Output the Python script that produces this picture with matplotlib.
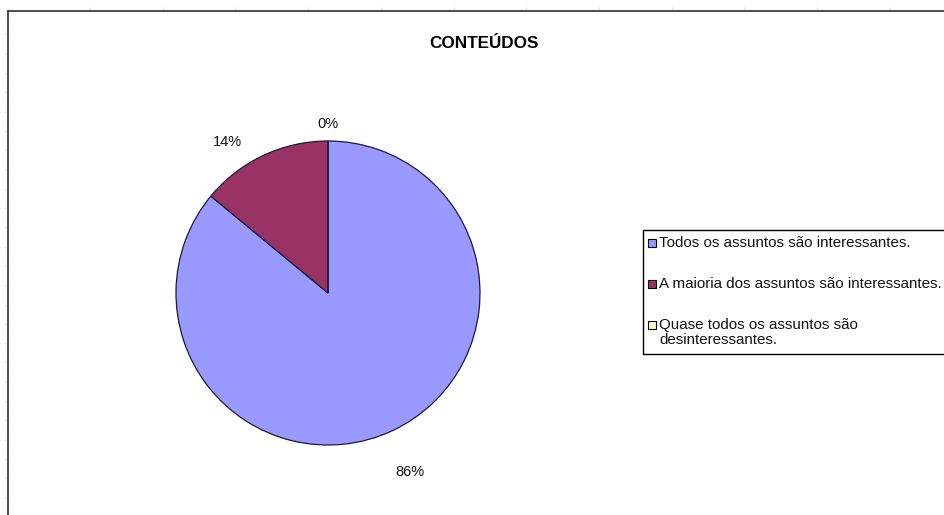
import matplotlib
matplotlib.use("Agg")
import matplotlib.pyplot as plt
from matplotlib.patches import Rectangle
from matplotlib.lines import Line2D

plt.rcParams['font.family'] = ['Liberation Sans', 'DejaVu Sans']

title = "CONTEÚDOS"
categories = [
    "Todos os assuntos são interessantes.",
    "A maioria dos assuntos são interessantes.",
    "Quase todos os assuntos são\ndesinteressantes.",
]
values = [86, 14, 0]
colors = ["#9999FF", "#993366", "#FFFFCC"]

W, H = 944, 515
fig = plt.figure(figsize=(W / 100, H / 100), dpi=100)
fig.patch.set_facecolor("white")

def fx(px):
    return px / W

def fy(py):
    return 1 - py / H

# faint worksheet grid remnants around the chart frame
for x in [90, 163, 235, 308, 381, 454, 526, 599, 672, 744, 817, 890]:
    fig.add_artist(Line2D([fx(x), fx(x)], [fy(7), fy(11)], color="#e6e6e6", lw=0.8))
y = 15
while y < H:
    fig.add_artist(Line2D([fx(5), fx(8)], [fy(y), fy(y)], color="#e6e6e6", lw=0.8))
    y += 19.3

# chart frame (left and top edges visible)
fig.add_artist(Line2D([fx(8), fx(8)], [fy(11), 0], color="#404040", lw=1.3))
fig.add_artist(Line2D([fx(8), 1], [fy(11), fy(11)], color="#404040", lw=1.3))

fig.text(fx(484), fy(44), title, ha="center", va="center",
         fontsize=12.3, fontweight="bold", color="black")

# pie: centre (328, 293), radius 152 px
cx, cy, r = 328, 293, 152
ax = fig.add_axes([fx(cx - r), fy(cy + r), 2 * r / W, 2 * r / H])
wedges, _ = ax.pie(values, colors=colors, startangle=90, counterclock=False,
                   radius=1.0,
                   wedgeprops=dict(edgecolor="#1a1a3a", linewidth=0.9))
ax.set_xlim(-1, 1)
ax.set_ylim(-1, 1)
ax.set_aspect("auto")
ax.axis("off")

# percentage labels
label_pos = [(410, 472), (227, 142), (328, 124)]
for v, (lx, ly) in zip(values, label_pos):
    fig.text(fx(lx), fy(ly), f"{v}%", ha="center", va="center",
             fontsize=10.5, color="#111111")

# legend, laid out by hand: box runs off the right edge
box_left, box_top, box_bottom = 643, 230, 354
fig.add_artist(Rectangle((fx(box_left), fy(box_bottom)), fx(960 - box_left),
                         (box_bottom - box_top) / H, facecolor="white",
                         edgecolor="black", linewidth=1.0))
entry_y = [243, 284, 325]
line_gap = 15
for lab, col, ey in zip(categories, colors, entry_y):
    fig.add_artist(Rectangle((fx(648), fy(ey + 4)), 8 / W, 8 / H,
                             facecolor=col, edgecolor="black", linewidth=0.8))
    for i, line in enumerate(lab.split("\n")):
        fig.text(fx(659), fy(ey + i * line_gap), line, ha="left", va="center",
                 fontsize=10.9, color="#111111")

fig.savefig("out.png", dpi=100)
